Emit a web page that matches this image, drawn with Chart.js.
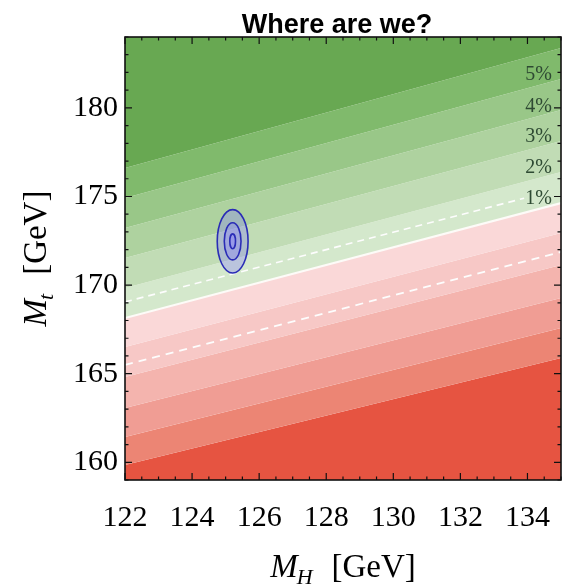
<!DOCTYPE html>
<html>
<head>
<meta charset="utf-8">
<script src="https://cdn.jsdelivr.net/npm/chart.js@4.4.0/dist/chart.umd.min.js"></script>
<style>
  html, body { margin: 0; background: #fff; overflow: hidden; }
  #wrap { width: 563px; height: 585px; }
  canvas { display: block; }
</style>
</head>
<body>
<div id="wrap"><canvas id="chart"></canvas></div>
<script>
// axis ranges
const mhRange = [122, 135];
const mtRange = [159, 184];

// contour band edges: M_t at M_H = 122 and at M_H = 135
const edgeMH = [122, 135];
const greenEdges = [
  [176.61, 183.38],
  [174.91, 181.63],
  [173.22, 179.88],
  [171.53, 178.13],
  [169.84, 176.38],
];
const zeroEdge = [168.14, 174.63];
const redEdges = [
  [166.51, 172.94],
  [164.81, 171.13],
  [163.06, 169.27],
  [161.43, 167.58],
  [159.85, 165.88],
];

// dashed contours
const upperDashMH = [122, 133.9];
const upperDashMt = [169.05, 174.9];
const lowerDashMH = [122, 135];
const lowerDashMt = [165.49, 171.87];

// contour labels on the right
const pctLabels = ['5%', '4%', '3%', '2%', '1%'];
const pctLabelMH = 134.33;
const pctLabelMt = [181.86, 180.05, 178.36, 176.6, 174.86];

// measured point with 1, 2, 3 sigma ellipses
const fitMH = 125.21;
const fitMt = 172.47;
const sigmaMH = [0.085, 0.25, 0.46];
const sigmaMt = [0.42, 1.05, 1.79];

// band colours, top to bottom
const greenFill = ['#68a852', '#80ba6c', '#99c788', '#aed29f', '#c1dcb5', '#d4e8cc'];
const redFill = ['#fad8d8', '#f7c8c6', '#f4b4ae', '#f09d94', '#ec8574', '#e65441'];

const edges = [...greenEdges, zeroEdge, ...redEdges];
const fills = [...greenFill, ...redFill];

const pts = (xs, ys) => xs.map((v, i) => ({ x: v, y: ys[i] }));

const datasets = edges.map((e, k) => ({
  data: pts(edgeMH, e),
  fill: k === 0 ? 'end' : '-1',
  backgroundColor: fills[k],
  borderWidth: 0,
  pointRadius: 0,
  order: 2,
}));
datasets.push({
  data: pts(edgeMH, edges[edges.length - 1]),
  fill: 'start',
  backgroundColor: fills[fills.length - 1],
  borderWidth: 0,
  pointRadius: 0,
  order: 2,
});
datasets.push(
  { data: pts(edgeMH, zeroEdge), fill: false, borderColor: '#fdfbf8', borderWidth: 2.2, pointRadius: 0, order: 1 },
  { data: pts(upperDashMH, upperDashMt), fill: false, borderColor: '#fdfdfd', borderWidth: 1.6, borderDash: [7, 5], pointRadius: 0, order: 1 },
  { data: pts(lowerDashMH, lowerDashMt), fill: false, borderColor: '#fdfdfd', borderWidth: 1.8, borderDash: [8, 6], pointRadius: 0, order: 1 },
);

function mathTitle(ctx, sub, size) {
  const subSize = Math.round(size * 0.68);
  ctx.font = `italic ${size}px "Liberation Serif"`;
  const wM = ctx.measureText('M').width;
  ctx.font = `italic ${subSize}px "Liberation Serif"`;
  const wS = ctx.measureText(sub).width;
  ctx.font = `${size}px "Liberation Serif"`;
  const wG = ctx.measureText('[GeV]').width;
  const gap = 18;
  const total = wM + wS + gap + wG;
  let x = -total / 2;
  ctx.textAlign = 'left';
  ctx.textBaseline = 'alphabetic';
  ctx.font = `italic ${size}px "Liberation Serif"`;
  ctx.fillText('M', x, 0);
  x += wM;
  ctx.font = `italic ${subSize}px "Liberation Serif"`;
  ctx.fillText(sub, x - 1, size * 0.2);
  x += wS + gap;
  ctx.font = `${size}px "Liberation Serif"`;
  ctx.fillText('[GeV]', x, 0);
}

const decorations = {
  id: 'decorations',
  afterDatasetsDraw(chart) {
    const { ctx, scales: { x, y } } = chart;
    ctx.save();
    const cx = x.getPixelForValue(fitMH);
    const cy = y.getPixelForValue(fitMt);
    for (let i = sigmaMH.length - 1; i >= 0; i--) {
      const rx = x.getPixelForValue(fitMH + sigmaMH[i]) - cx;
      const ry = cy - y.getPixelForValue(fitMt + sigmaMt[i]);
      ctx.beginPath();
      ctx.ellipse(cx, cy, rx, ry, 0, 0, Math.PI * 2);
      ctx.fillStyle = 'rgba(135,125,255,0.33)';
      ctx.fill();
      ctx.lineWidth = 1.6;
      ctx.strokeStyle = '#2a2cb6';
      ctx.stroke();
    }
    ctx.font = '20px "Liberation Serif"';
    ctx.fillStyle = '#2e4a33';
    ctx.textAlign = 'center';
    ctx.textBaseline = 'middle';
    pctLabels.forEach((t, i) => {
      ctx.fillText(t, x.getPixelForValue(pctLabelMH), y.getPixelForValue(pctLabelMt[i]));
    });
    ctx.restore();
  },
  afterDraw(chart) {
    const { ctx, chartArea: a, scales: { x, y } } = chart;
    ctx.save();
    ctx.strokeStyle = '#111';
    ctx.lineWidth = 1.2;
    ctx.beginPath();
    x.ticks.forEach(t => {
      const p = x.getPixelForValue(t.value);
      const len = t.value % 2 === 0 ? 7 : 3.5;
      ctx.moveTo(p, a.bottom); ctx.lineTo(p, a.bottom - len);
      ctx.moveTo(p, a.top); ctx.lineTo(p, a.top + len);
    });
    y.ticks.forEach(t => {
      const p = y.getPixelForValue(t.value);
      const len = t.value % 5 === 0 ? 7 : 3.5;
      ctx.moveTo(a.left, p); ctx.lineTo(a.left + len, p);
      ctx.moveTo(a.right, p); ctx.lineTo(a.right - len, p);
    });
    ctx.stroke();
    ctx.lineWidth = 1.6;
    ctx.strokeRect(a.left, a.top, a.right - a.left, a.bottom - a.top);

    ctx.fillStyle = '#000';
    ctx.font = 'bold 27px "Liberation Sans"';
    ctx.textAlign = 'center';
    ctx.textBaseline = 'alphabetic';
    ctx.fillText('Where are we?', 337, 33);

    ctx.save();
    ctx.translate((a.left + a.right) / 2, 577);
    mathTitle(ctx, 'H', 33);
    ctx.restore();

    ctx.save();
    ctx.translate(46, (a.top + a.bottom) / 2);
    ctx.rotate(-Math.PI / 2);
    mathTitle(ctx, 't', 33);
    ctx.restore();
    ctx.restore();
  },
};

new Chart(document.getElementById('chart'), {
  type: 'line',
  data: { datasets },
  options: {
    responsive: true,
    maintainAspectRatio: false,
    devicePixelRatio: 1,
    animation: false,
    layout: { padding: { top: 37, right: 2 } },
    plugins: {
      legend: { display: false },
      tooltip: { enabled: false },
      filler: { drawTime: 'beforeDatasetsDraw' },
    },
    elements: { line: { tension: 0 } },
    scales: {
      x: {
        type: 'linear',
        min: mhRange[0],
        max: mhRange[1],
        grid: { display: false, drawTicks: false },
        border: { display: false },
        ticks: {
          stepSize: 0.5,
          autoSkip: false,
          maxRotation: 0,
          padding: 20,
          color: '#000',
          font: { family: 'Liberation Serif', size: 30 },
          callback: (v) => (v % 2 === 0 && v < mhRange[1] ? v : ''),
        },
        afterFit: (s) => { s.height = 105; s.paddingLeft = 0; s.paddingRight = 0; },
      },
      y: {
        type: 'linear',
        min: mtRange[0],
        max: mtRange[1],
        grid: { display: false, drawTicks: false },
        border: { display: false },
        ticks: {
          stepSize: 1,
          autoSkip: false,
          padding: 7,
          color: '#000',
          font: { family: 'Liberation Serif', size: 30 },
          callback: (v) => (v % 5 === 0 ? v : ''),
        },
        afterFit: (s) => { s.width = 125; s.paddingTop = 0; s.paddingBottom = 0; },
      },
    },
  },
  plugins: [decorations],
});
</script>
</body>
</html>
